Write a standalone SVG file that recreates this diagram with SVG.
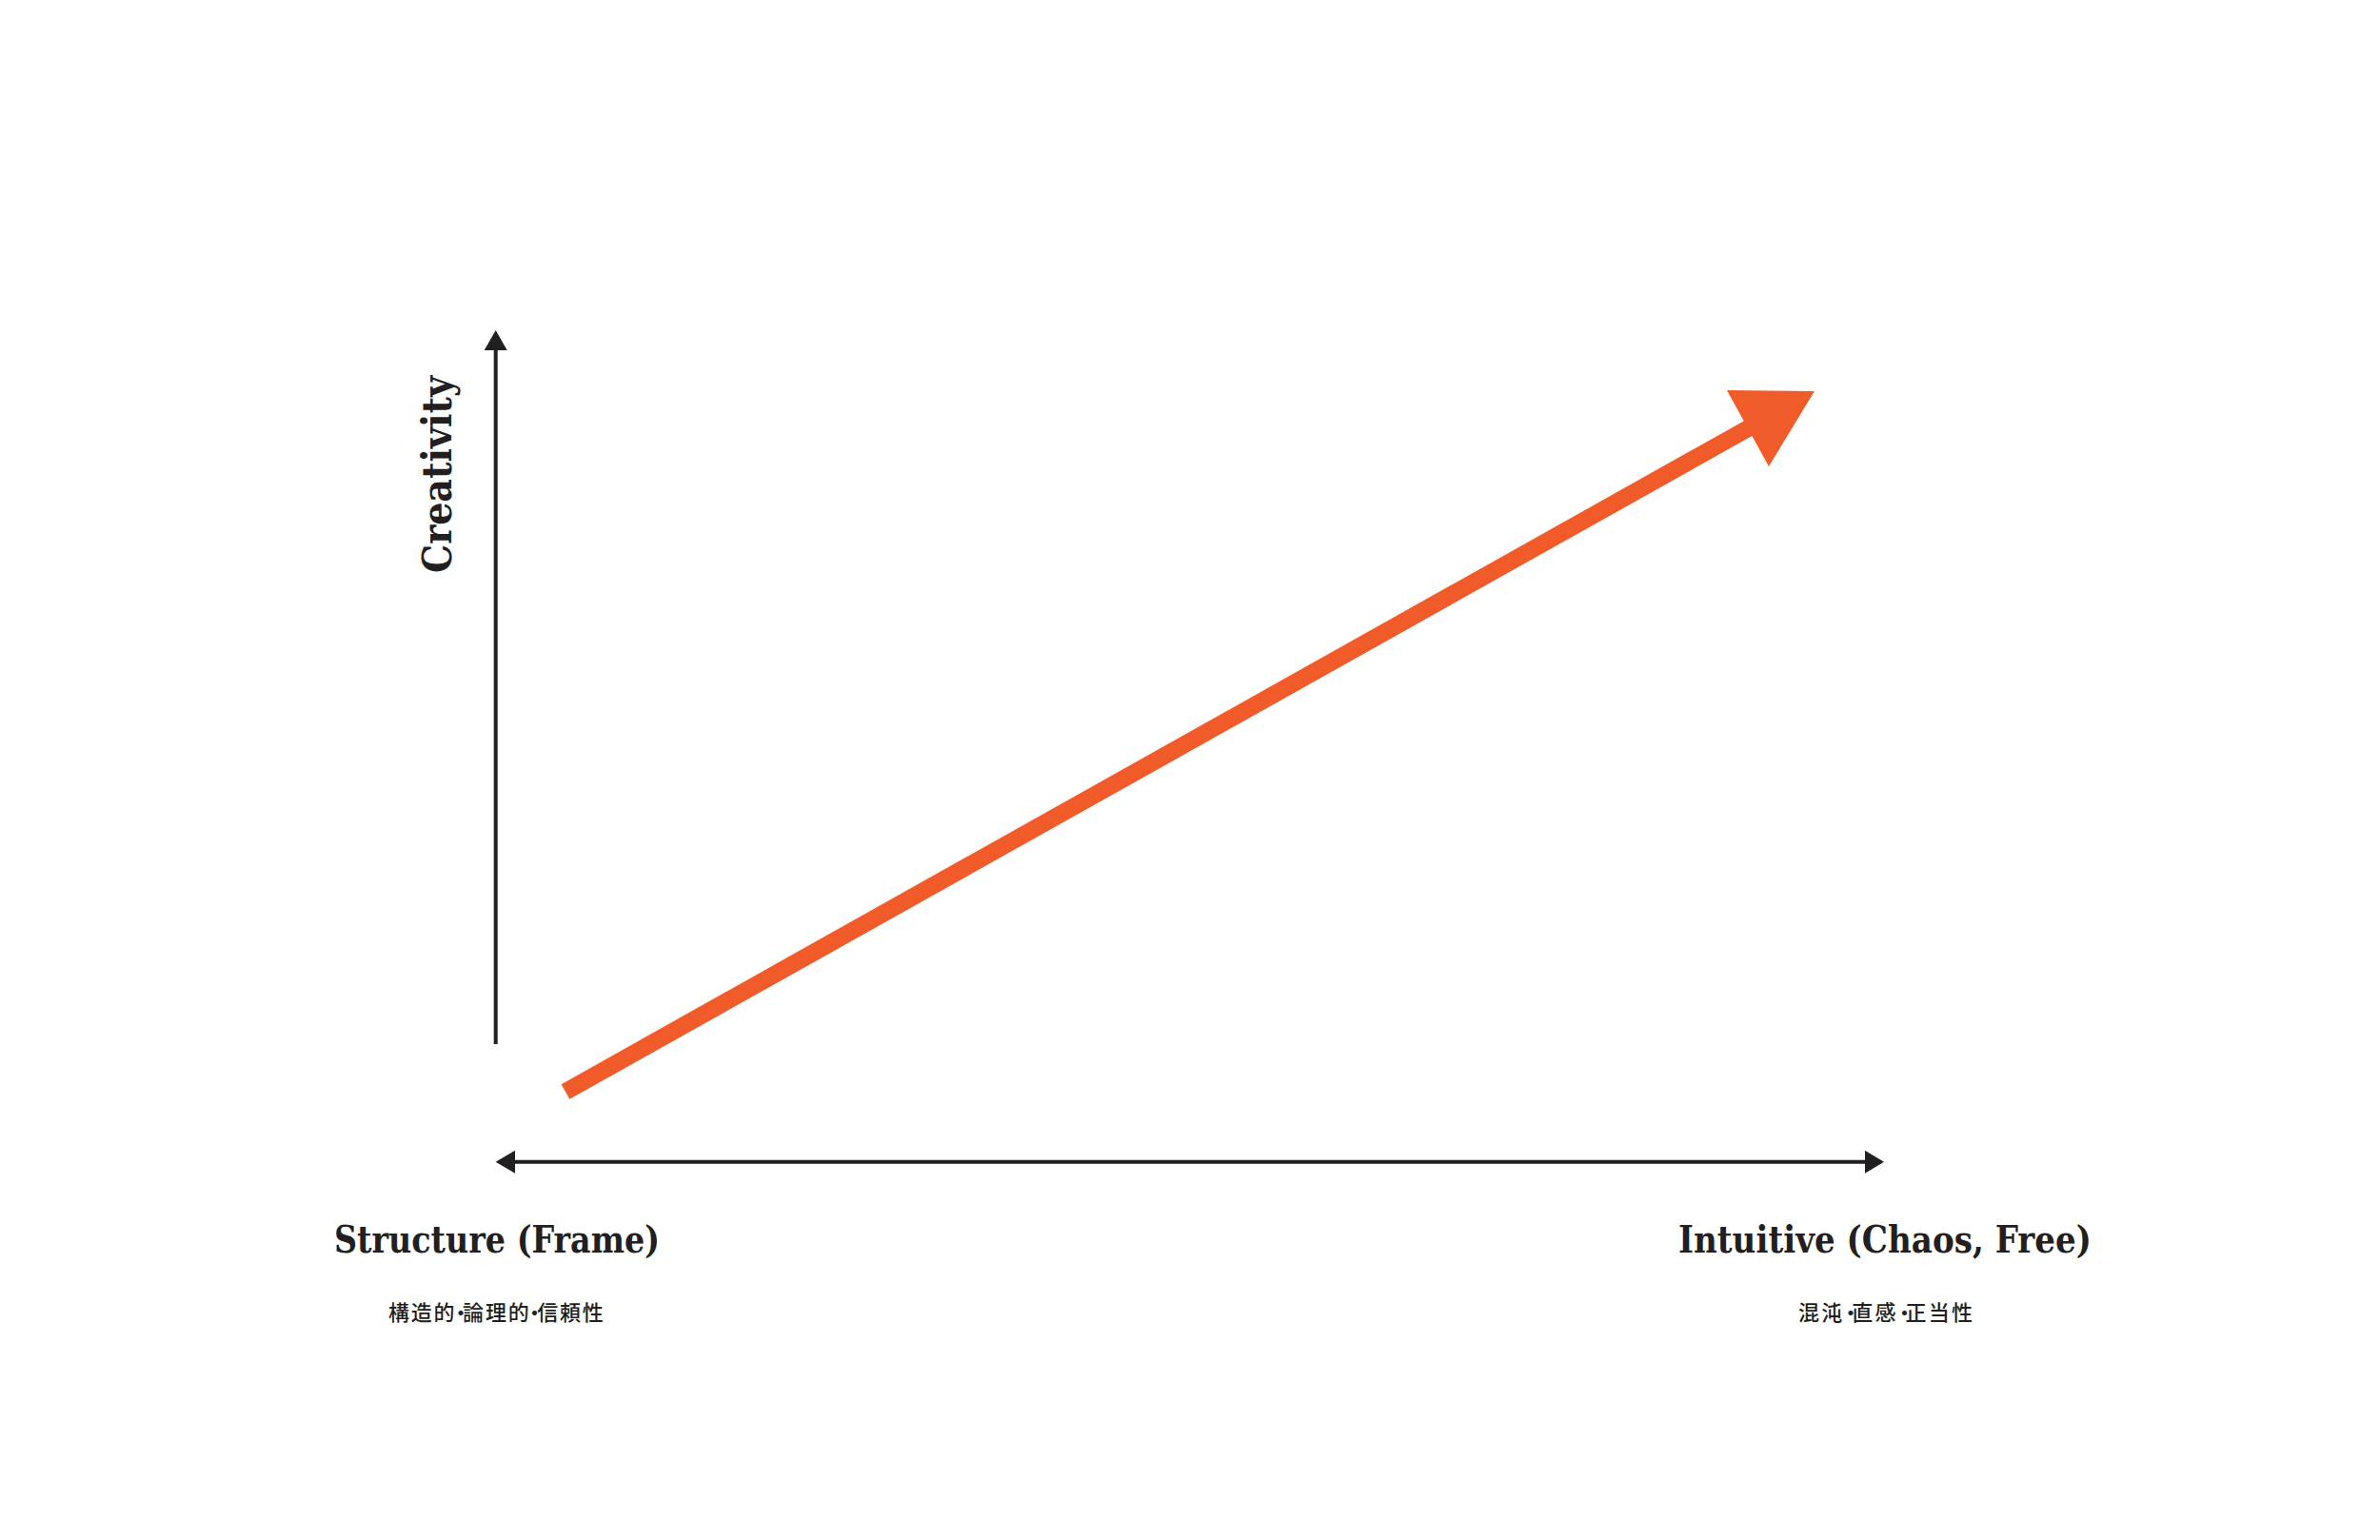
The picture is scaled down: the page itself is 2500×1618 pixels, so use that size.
<svg xmlns="http://www.w3.org/2000/svg" width="2500" height="1618" viewBox="0 0 2500 1618">
  <style>
    .axis { stroke: #231F20; stroke-width: 4; fill: none; }
    .head { fill: #231F20; }
    .lbl { font-family: "DejaVu Serif", "Liberation Serif", serif; font-weight: bold; fill: #231F20; }
    .jp { font-family: "Noto Sans CJK JP", "Noto Sans CJK SC", sans-serif; font-weight: 500; font-size: 22px; fill: #231F20; }
  </style>
  <rect width="2500" height="1618" fill="#FFFFFF"/>
  <g id="connectors">
    <line class="axis" x1="520.7" y1="1097" x2="520.7" y2="362"/>
    <polygon class="head" points="520.7,347 532.7,368 508.7,368"/>
    <line class="axis" x1="536" y1="1220.7" x2="1964" y2="1220.7"/>
    <polygon class="head" points="520.7,1220.7 541,1208.7 541,1232.7"/>
    <polygon class="head" points="1979,1220.7 1959,1208.7 1959,1232.7"/>
    <line x1="594" y1="1147" x2="1840" y2="448" stroke="#F15A29" stroke-width="18"/>
    <polygon points="1814,410 1906,411 1858,490" fill="#F15A29"/>
  </g>
  <g id="y-label">
    <text class="lbl" font-size="42" text-anchor="middle" textLength="207" lengthAdjust="spacingAndGlyphs" transform="translate(474,498.5) rotate(-90)">Creativity</text>
  </g>
  <g id="left-label">
    <text class="lbl" x="522" y="1316" font-size="40" text-anchor="middle" textLength="342" lengthAdjust="spacingAndGlyphs">Structure (Frame)</text>
    <text class="jp" x="408 431.8 455.6 473 486.1 509.9 533.7 550.5 564.2 588 611.8" y="1387">構造的・論理的・信頼性</text>
  </g>
  <g id="right-label">
    <text class="lbl" x="1980" y="1316" font-size="40" text-anchor="middle" textLength="434" lengthAdjust="spacingAndGlyphs">Intuitive (Chaos, Free)</text>
    <text class="jp" x="1889 1913.2 1933 1945.3 1969.5 1989.5 2001.6 2025.8 2050" y="1387">混沌・直感・正当性</text>
  </g>
</svg>
